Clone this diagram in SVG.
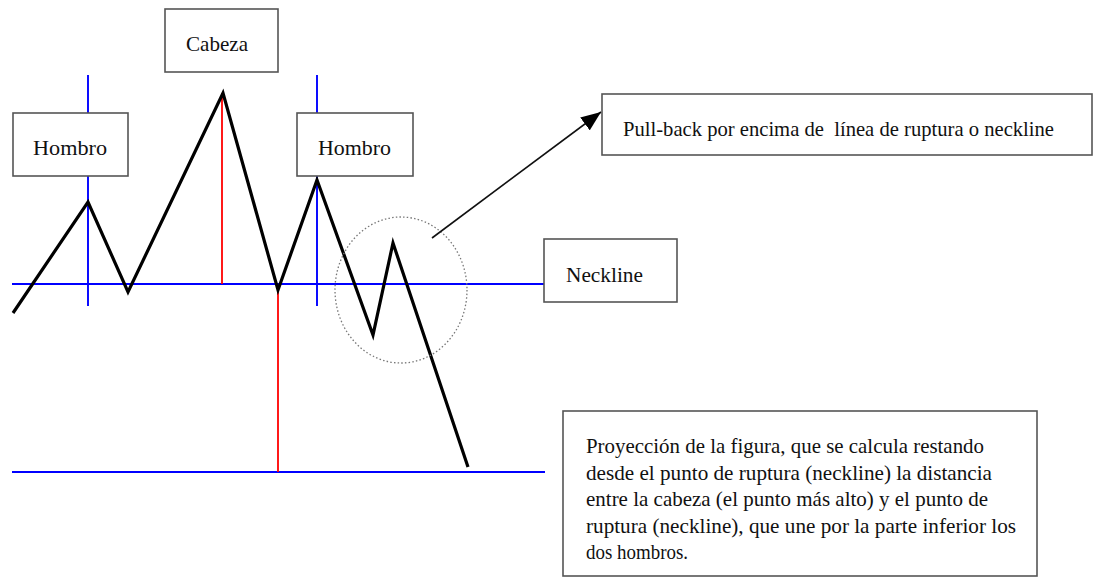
<svg xmlns="http://www.w3.org/2000/svg" width="1094" height="578" viewBox="0 0 1094 578">
<style>
.box{fill:#fff;stroke:#555;stroke-width:1.6}
.lbl{font-family:"Liberation Serif","Times New Roman",serif;font-size:21.5px;fill:#111}
.blue{stroke:#0000ff;stroke-width:1.9;fill:none}
.red{stroke:#ff0000;stroke-width:1.8;fill:none}
</style>
<defs>
<marker id="ahBig" viewBox="0 0 20 16" refX="20" refY="8" markerWidth="20" markerHeight="16" markerUnits="userSpaceOnUse" orient="auto">
<path d="M0,0 L20,8 L0,16 z" fill="#000"/>
</marker>
</defs>
<rect width="1094" height="578" fill="#fff"/>
<g id="connectors">
<line class="blue" x1="12" y1="284" x2="545" y2="284"/>
<line class="blue" x1="12" y1="472" x2="545" y2="472"/>
<line class="blue" x1="88" y1="75" x2="88" y2="306"/>
<line class="blue" x1="317" y1="75" x2="317" y2="306"/>
<line class="red" x1="222" y1="93" x2="222" y2="284"/>
<line class="red" x1="278" y1="290" x2="278" y2="472"/>
<polyline points="13,313 88,202 128,292 223,93 278,290 317,180 373,335 393,243 468,467" fill="none" stroke="#000" stroke-width="3.2" stroke-linejoin="miter" stroke-miterlimit="10"/>
<ellipse cx="401" cy="290" rx="66" ry="73" fill="none" stroke="#777" stroke-width="1.3" stroke-dasharray="1.5,2.2"/>
<line x1="432" y1="238" x2="601" y2="112" stroke="#111" stroke-width="1.6" marker-end="url(#ahBig)"/>
</g>
<g id="cabeza">
<rect class="box" x="165" y="9" width="113" height="63"/>
<text class="lbl" x="186" y="51" textLength="62" lengthAdjust="spacingAndGlyphs">Cabeza</text>
</g>
<g id="hombro-izq">
<rect class="box" x="13" y="113" width="115" height="63"/>
<text class="lbl" x="33" y="155" textLength="74" lengthAdjust="spacingAndGlyphs">Hombro</text>
</g>
<g id="hombro-der">
<rect class="box" x="297" y="113" width="116" height="63"/>
<text class="lbl" x="318" y="155" textLength="73" lengthAdjust="spacingAndGlyphs">Hombro</text>
</g>
<g id="neckline">
<rect class="box" x="544" y="239" width="133" height="63"/>
<text class="lbl" x="566" y="282" textLength="77" lengthAdjust="spacingAndGlyphs">Neckline</text>
</g>
<g id="pullback">
<rect class="box" x="602" y="94" width="490" height="61"/>
<text class="lbl" x="623" y="136" textLength="431" lengthAdjust="spacingAndGlyphs" xml:space="preserve">Pull-back por encima de  línea de ruptura o neckline</text>
</g>
<g id="proyeccion">
<rect class="box" x="563" y="411" width="474" height="165"/>
<text class="lbl" x="586" y="453" textLength="398" lengthAdjust="spacingAndGlyphs">Proyección de la figura, que se calcula restando</text>
<text class="lbl" x="586" y="479.5" textLength="406" lengthAdjust="spacingAndGlyphs">desde el punto de ruptura (neckline) la distancia</text>
<text class="lbl" x="586" y="506" textLength="402" lengthAdjust="spacingAndGlyphs">entre la cabeza (el punto más alto) y el punto de</text>
<text class="lbl" x="586" y="532.5" textLength="430" lengthAdjust="spacingAndGlyphs">ruptura (neckline), que une por la parte inferior los</text>
<text class="lbl" x="586" y="559" textLength="102" lengthAdjust="spacingAndGlyphs">dos hombros.</text>
</g>
</svg>
